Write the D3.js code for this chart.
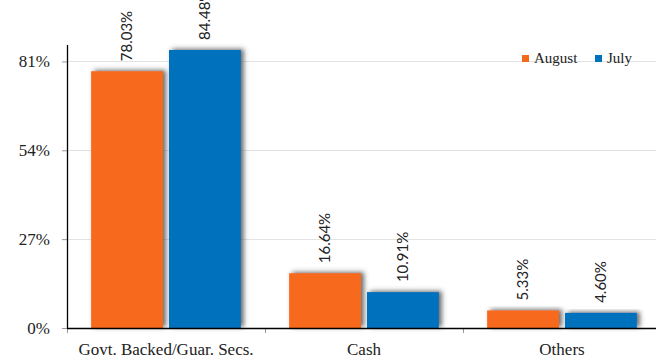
<!DOCTYPE html>
<html>
<head>
<meta charset="utf-8">
<script src="https://cdn.jsdelivr.net/npm/d3@7"></script>
<style>
  body { margin: 0; background: #fff; }
  svg { display: block; }
</style>
</head>
<body>
<svg id="chart" width="656" height="360"></svg>
<script>
var categories = ["Govt. Backed/Guar. Secs.", "Cash", "Others"];
var series = ["August", "July"];
var august = [78.03, 16.64, 5.33];
var july = [84.48, 10.91, 4.60];
var yTicks = [0, 27, 54, 81];
var colors = {"August": "#f7691a", "July": "#0071bc"};

var svg = d3.select("#chart"),
    width = +svg.attr("width"),
    height = +svg.attr("height");

var margin = {top: 45, right: -5, bottom: 32, left: 67};

var x = d3.scaleBand()
  .domain(categories)
  .range([margin.left, width - margin.right]);

var xSub = d3.scaleBand()
  .domain(series)
  .range([0, x.bandwidth()])
  .paddingInner(0.077)
  .paddingOuter(0.31);

var y = d3.scaleLinear()
  .domain([0, 86])
  .range([height - margin.bottom, margin.top]);

// shadow for the bars
var defs = svg.append("defs");
var f = defs.append("filter")
  .attr("id", "shadow")
  .attr("x", "-20%").attr("y", "-20%")
  .attr("width", "140%").attr("height", "140%");
f.append("feDropShadow")
  .attr("dx", 3).attr("dy", -1)
  .attr("stdDeviation", 2.4)
  .attr("flood-color", "#444")
  .attr("flood-opacity", 0.8);

// gridlines
svg.append("g")
  .selectAll("line")
  .data(yTicks.filter(function(d) { return d > 0; }))
  .enter().append("line")
    .attr("x1", margin.left)
    .attr("x2", width)
    .attr("y1", function(d) { return Math.round(y(d)) + 0.5; })
    .attr("y2", function(d) { return Math.round(y(d)) + 0.5; })
    .attr("stroke", "#e3e3e3")
    .attr("stroke-width", 1);

var data = [];
categories.forEach(function(c, i) {
  data.push({cat: c, s: "August", v: august[i]});
  data.push({cat: c, s: "July", v: july[i]});
});

svg.append("g")
  .selectAll("rect")
  .data(data)
  .enter().append("rect")
    .attr("x", function(d) { return x(d.cat) + xSub(d.s); })
    .attr("y", function(d) { return y(d.v); })
    .attr("width", xSub.bandwidth())
    .attr("height", function(d) { return y(0) - y(d.v); })
    .attr("fill", function(d) { return colors[d.s]; })
    .attr("filter", "url(#shadow)");

// value labels, rotated
svg.append("g")
  .selectAll("text")
  .data(data)
  .enter().append("text")
    .attr("transform", function(d) {
      var cx = x(d.cat) + xSub(d.s) + xSub.bandwidth() / 2;
      return "translate(" + cx + "," + (y(d.v) - 10) + ") rotate(-90)";
    })
    .attr("dy", "0.35em")
    .attr("font-family", "Lato, 'Open Sans', sans-serif")
    .attr("font-size", 15)
    .attr("fill", "#222")
    .text(function(d) { return d.v.toFixed(2) + "%"; });

// y axis
var yAxis = svg.append("g")
  .attr("transform", "translate(" + margin.left + ",0)")
  .call(d3.axisLeft(y).tickValues(yTicks).tickSize(5).tickPadding(12)
    .tickFormat(function(d) { return d + "%"; }));
yAxis.select(".domain").remove();
yAxis.selectAll(".tick line").attr("stroke", "#999");
yAxis.selectAll("text")
  .attr("font-family", "'Liberation Serif', serif")
  .attr("font-size", 17)
  .attr("fill", "#222");
svg.append("line")
  .attr("x1", margin.left + 0.5).attr("x2", margin.left + 0.5)
  .attr("y1", margin.top).attr("y2", y(0))
  .attr("stroke", "#000").attr("stroke-width", 1.3);

// x axis
var xAxis = svg.append("g")
  .attr("transform", "translate(0," + y(0) + ")")
  .call(d3.axisBottom(x).tickSize(0).tickPadding(15));
xAxis.select(".domain").remove();
xAxis.selectAll("text")
  .attr("font-family", "'Liberation Serif', serif")
  .attr("font-size", 17)
  .attr("fill", "#222");
svg.append("g")
  .selectAll("line")
  .data(categories)
  .enter().append("line")
    .attr("x1", function(d) { return Math.round(x(d)) + 0.5; })
    .attr("x2", function(d) { return Math.round(x(d)) + 0.5; })
    .attr("y1", y(0)).attr("y2", y(0) + 5)
    .attr("stroke", "#999");
svg.append("line")
  .attr("x1", margin.left).attr("x2", width)
  .attr("y1", y(0) + 0.5).attr("y2", y(0) + 0.5)
  .attr("stroke", "#000").attr("stroke-width", 1.3);

// legend
var legendX = [522, 595];
var legend = svg.append("g")
  .selectAll("g")
  .data(series)
  .enter().append("g")
    .attr("transform", function(d, i) { return "translate(" + legendX[i] + ",55)"; });
legend.append("rect")
  .attr("width", 7).attr("height", 7)
  .attr("fill", function(d) { return colors[d]; });
legend.append("text")
  .attr("x", 12).attr("y", 8)
  .attr("font-family", "'Liberation Serif', serif")
  .attr("font-size", 15)
  .attr("fill", "#222")
  .text(function(d) { return d; });
</script>
</body>
</html>
